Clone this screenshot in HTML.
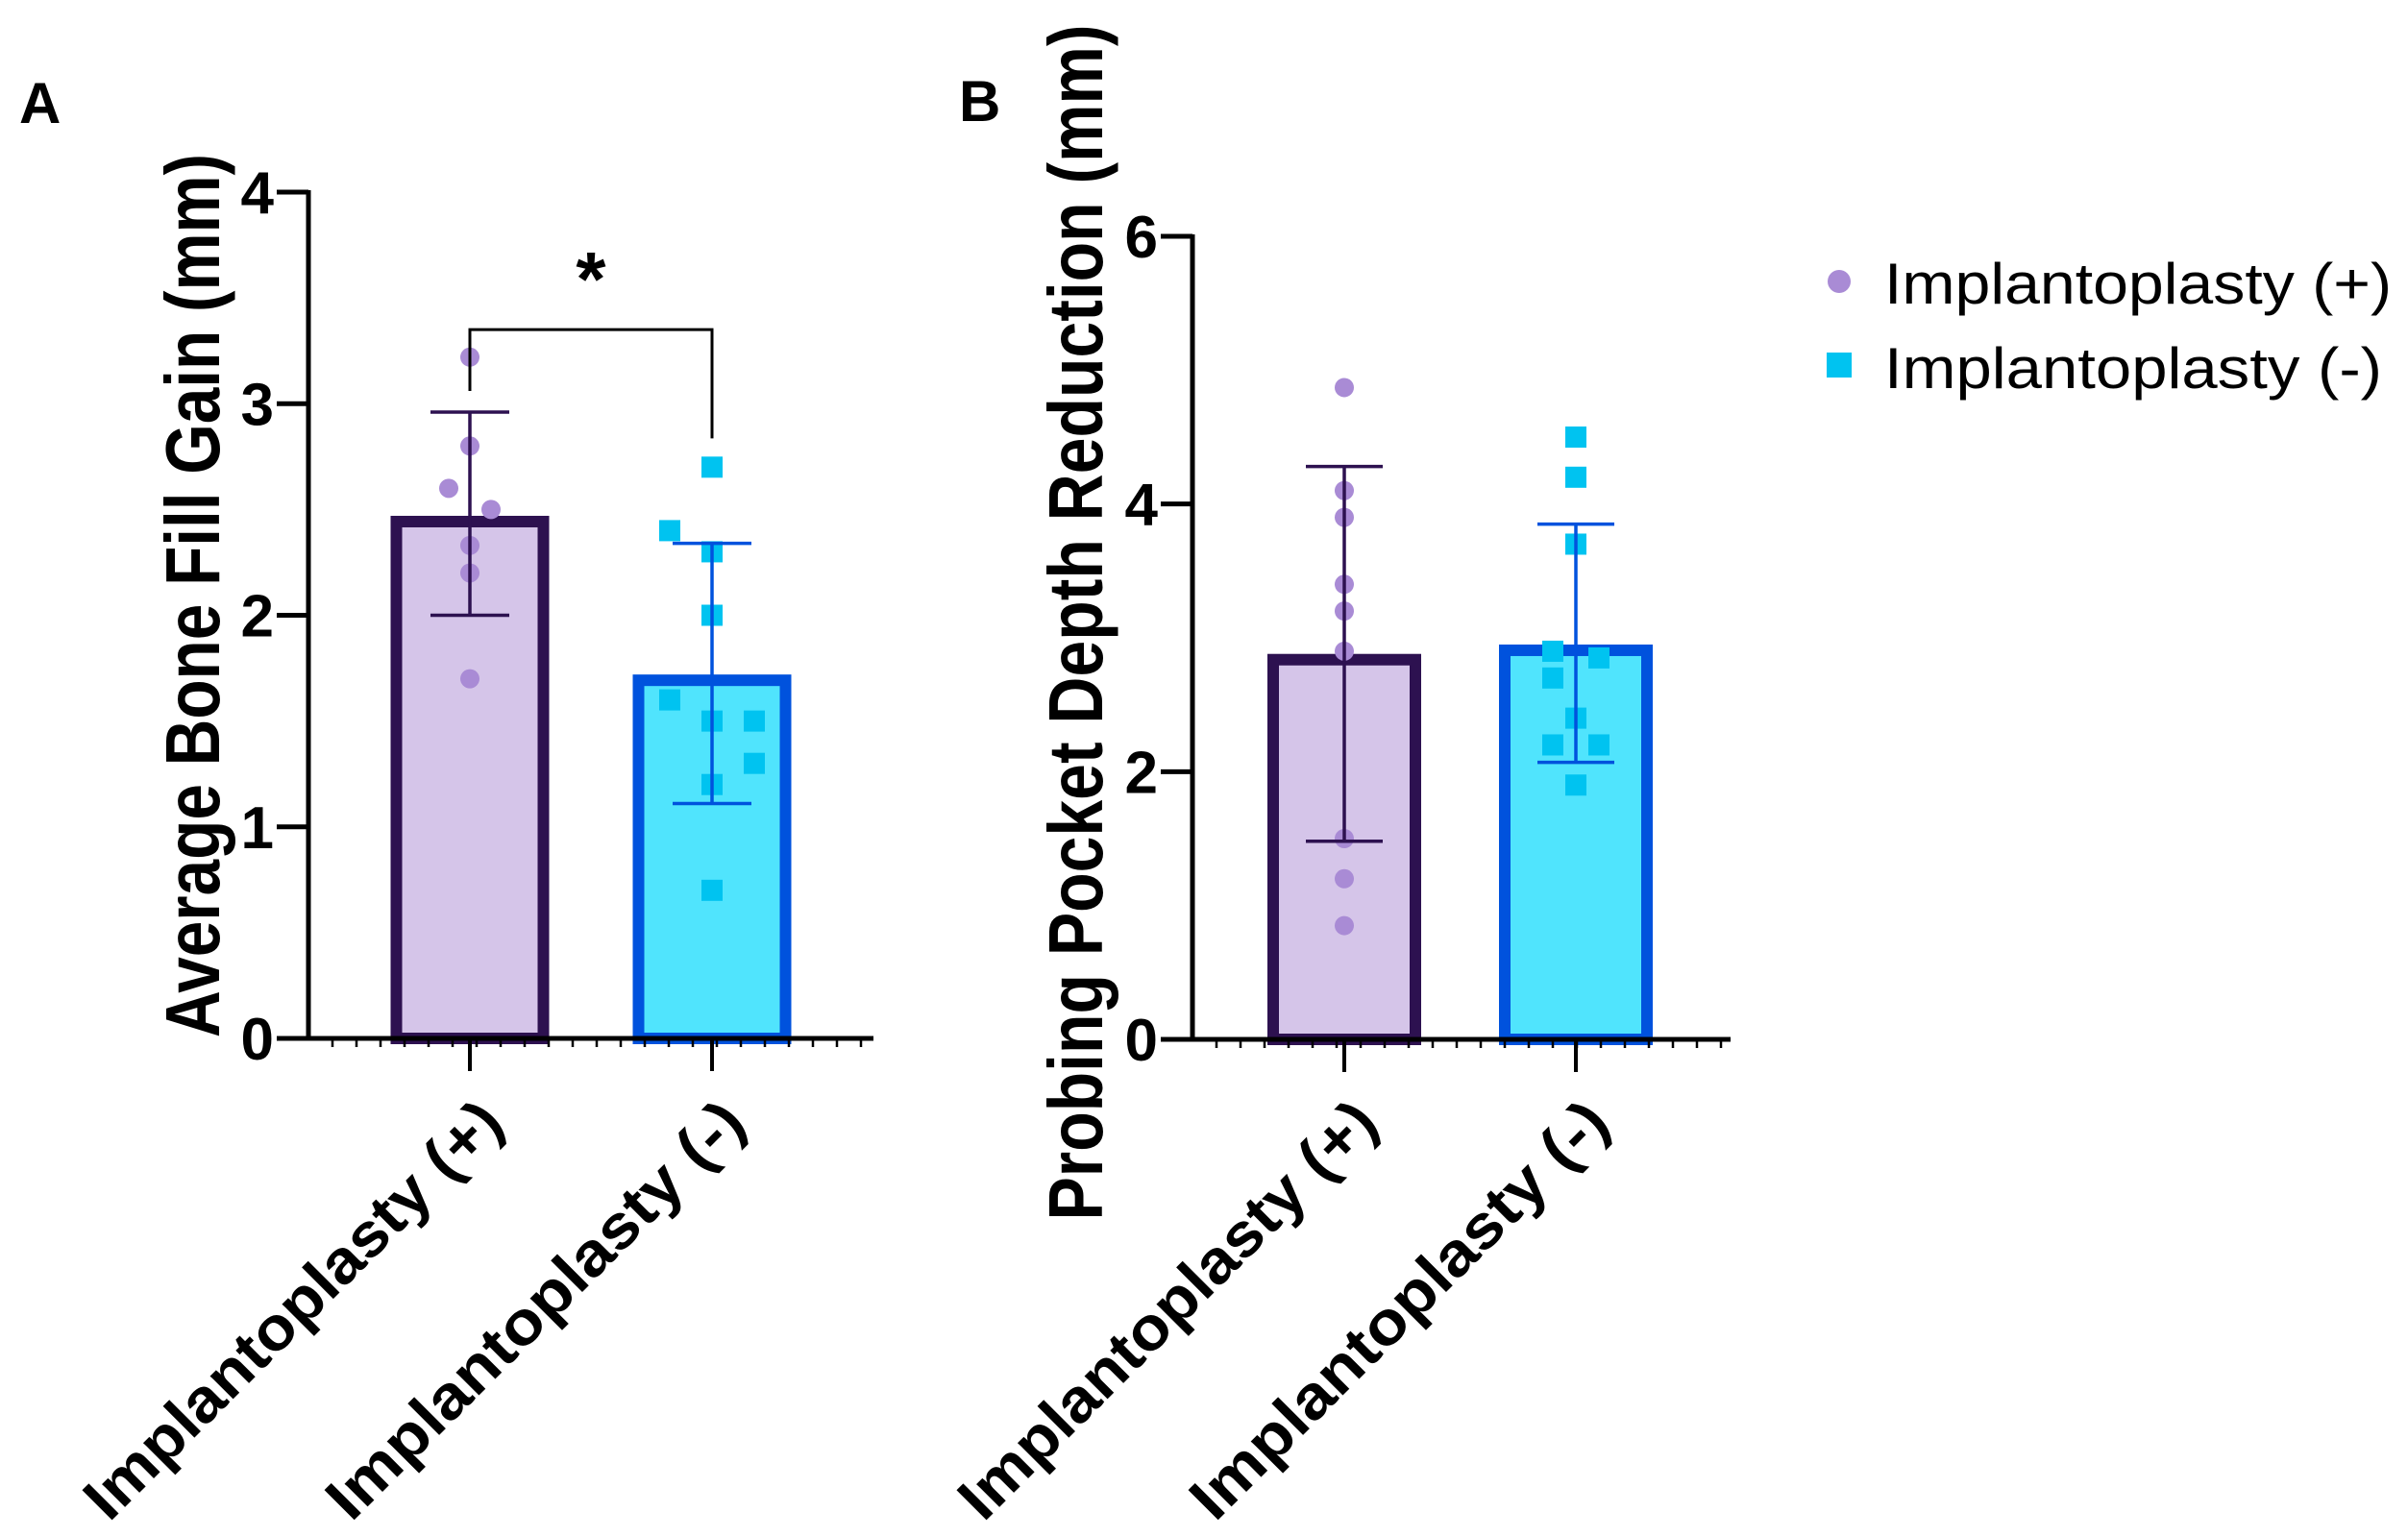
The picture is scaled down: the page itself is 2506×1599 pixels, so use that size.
<!DOCTYPE html>
<html><head><meta charset="utf-8"><style>
html,body{margin:0;padding:0;background:#fff;}
svg{display:block;font-family:"Liberation Sans",Arial,sans-serif;}
</style></head><body>
<svg id="chart" width="2506" height="1599" viewBox="0 0 2506 1599" xmlns="http://www.w3.org/2000/svg">
<rect width="2506" height="1599" fill="#fff"/>
<g id="layer"></g>
</svg>
<script>
const categories = ["Implantoplasty (+)", "Implantoplasty (-)"];
const meansA = [2.47, 1.72];
const sdUpperA = [2.96, 2.34];
const sdLowerA = [2.00, 1.11];
const pointsAplus = [3.22, 2.8, 2.6, 2.5, 2.33, 2.2, 1.7];
const offsetsAplus = [0, 0, -1, 1, 0, 0, 0];
const pointsAminus = [2.7, 2.4, 2.3, 2.0, 1.6, 1.5, 1.5, 1.3, 1.2, 0.7];
const offsetsAminus = [0, -2, 0, 0, -2, 0, 2, 2, 0, 0];
const meansB = [2.88, 2.95];
const sdUpperB = [4.28, 3.85];
const sdLowerB = [1.48, 2.07];
const pointsBplus = [4.87, 4.1, 3.9, 3.4, 3.2, 2.9, 1.5, 1.2, 0.85];
const offsetsBplus = [0, 0, 0, 0, 0, 0, 0, 0, 0];
const pointsBminus = [4.5, 4.2, 3.7, 2.9, 2.85, 2.7, 2.4, 2.2, 2.2, 1.9];
const offsetsBminus = [0, 0, 0, -1, 1, -1, 0, -1, 1, 0];
const ticksA = [0, 1, 2, 3, 4];
const ticksB = [0, 2, 4, 6];

const NS = "http://www.w3.org/2000/svg";
const layer = document.getElementById("layer");
function mk(tag, attrs, parent) {
  const e = document.createElementNS(NS, tag);
  for (const k in attrs) e.setAttribute(k, attrs[k]);
  (parent || layer).appendChild(e);
  return e;
}
const fills = ["#d5c5e9", "#50e4fd"];
const strokes = ["#2d1150", "#0052dd"];
const markerCol = ["#a98bd5", "#00c3f0"];

function panel(cfg) {
  const g = mk("g", {});
  
  
  const y = v => cfg.y0 - (v / cfg.max) * (cfg.y0 - cfg.yTop);
  cfg.means.forEach((m, i) => {
    const cx = cfg.cx[i];
    const b = mk("rect", {x: cx - cfg.bw/2 + 6, y: y(m) + 6, width: cfg.bw - 12, height: cfg.y0 - y(m) - 6, fill: fills[i], stroke: strokes[i], "stroke-width": 12}, g);
    
    
  });
  cfg.points.forEach((arr, i) => {
    arr.forEach((v, j) => {
      const cx = cfg.cx[i] + cfg.offsets[i][j] * cfg.dx;
      let p;
      if (i === 0) p = mk("circle", {cx: cx, cy: y(v), r: 10, fill: markerCol[0]}, g);
      else p = mk("rect", {x: cx - 11, y: y(v) - 11, width: 22, height: 22, fill: markerCol[1]}, g);
      
      
    });
  });
  cfg.means.forEach((m, i) => {
    const cx = cfg.cx[i];
    const eg = mk("g", {stroke: strokes[i], "stroke-width": 3.5}, g);
    
    
    mk("line", {x1: cx, x2: cx, y1: y(cfg.up[i]), y2: y(cfg.lo[i])}, eg);
    mk("line", {x1: cx - cfg.cap, x2: cx + cfg.cap, y1: y(cfg.up[i]), y2: y(cfg.up[i])}, eg);
    mk("line", {x1: cx - cfg.cap, x2: cx + cfg.cap, y1: y(cfg.lo[i]), y2: y(cfg.lo[i])}, eg);
  });
  const ax = mk("g", {stroke: "#000", "stroke-width": 5}, g);
  
  
  mk("line", {x1: cfg.ax, x2: cfg.ax, y1: y(cfg.max) - 2, y2: cfg.y0}, ax);
  cfg.ticks.forEach(t => {
    mk("line", {x1: cfg.ax - 33, x2: cfg.ax, y1: y(t), y2: y(t)}, ax);
    const tl = mk("text", {x: cfg.ax - 36, y: y(t) + 22, "text-anchor": "end", "font-size": 62, "font-weight": "bold", fill: "#000", stroke: "none"}, g);
    tl.textContent = t;
    
    
  });
  const xa = mk("g", {stroke: "#000"}, g);
  
  
  mk("line", {x1: cfg.ax - 33, x2: cfg.xEnd, y1: cfg.y0, y2: cfg.y0, "stroke-width": 5}, xa);
  for (let x = cfg.ax + 25; x < cfg.xEnd; x += 25) mk("line", {x1: x, x2: x, y1: cfg.y0, y2: cfg.y0 + 9, "stroke-width": 2.5}, xa);
  cfg.cx.forEach((cx, i) => {
    mk("line", {x1: cx, x2: cx, y1: cfg.y0, y2: cfg.y0 + 34, "stroke-width": 4}, xa);
    const bx = cx + 38, by = 1172;
    const t = mk("text", {x: bx, y: by, "text-anchor": "end", "font-size": 64, "font-weight": "bold", transform: "rotate(-45 " + bx + " " + by + ")", textLength: 585, lengthAdjust: "spacingAndGlyphs"}, g);
    t.textContent = categories[i];
    
    
  });
  const tx = cfg.titleX, ty = cfg.titleY;
  const yt = mk("text", {x: tx, y: ty, "text-anchor": "middle", "font-size": 80, "font-weight": "bold", transform: "rotate(-90 " + tx + " " + ty + ")", textLength: cfg.titleLen, lengthAdjust: "spacingAndGlyphs"}, g);
  yt.textContent = cfg.title;
  
  
  return y;
}

const yA = panel({name: "panel-a", y0: 1081, yTop: 200, max: 4, ax: 321, xEnd: 909, cx: [489, 741], bw: 165, dx: 22,
  means: meansA, up: sdUpperA, lo: sdLowerA, points: [pointsAplus, pointsAminus], offsets: [offsetsAplus, offsetsAminus],
  cap: 41, ticks: ticksA, title: "Average Bone Fill Gain  (mm)", titleX: 228, titleY: 620, titleLen: 920});
panel({name: "panel-b", y0: 1082, yTop: 246, max: 6, ax: 1241, xEnd: 1801, cx: [1399, 1640], bw: 160, dx: 24,
  means: meansB, up: sdUpperB, lo: sdLowerB, points: [pointsBplus, pointsBminus], offsets: [offsetsBplus, offsetsBminus],
  cap: 40, ticks: ticksB, title: "Probing  Pocket Depth  Reduction (mm)", titleX: 1147, titleY: 648, titleLen: 1245});

const br = mk("path", {d: "M489 " + (yA(2.96) - 22) + " V" + yA(3.35) + " H741 V" + (yA(2.7) - 30), fill: "none", stroke: "#000", "stroke-width": 3});


const st = mk("text", {x: 615, y: 318, "text-anchor": "middle", "font-size": 80, "font-weight": "bold"});
st.textContent = "*";



const la = mk("text", {x: 20, y: 128, "font-size": 60, "font-weight": "bold"});
la.textContent = "A";


const lb = mk("text", {x: 998, y: 126, "font-size": 60, "font-weight": "bold"});
lb.textContent = "B";



const lg = mk("g", {});


const e1 = mk("g", {}, lg);


mk("circle", {cx: 1914, cy: 293, r: 12, fill: markerCol[0]}, e1);
const t1 = mk("text", {x: 1961, y: 316, "font-size": 60, textLength: 528, lengthAdjust: "spacingAndGlyphs"}, e1);
t1.textContent = "Implantoplasty (+)";
const e2 = mk("g", {}, lg);


mk("rect", {x: 1901, y: 367, width: 26, height: 26, fill: markerCol[1]}, e2);
const t2 = mk("text", {x: 1961, y: 404, "font-size": 60, textLength: 518, lengthAdjust: "spacingAndGlyphs"}, e2);
t2.textContent = "Implantoplasty (-)";
</script>
</body></html>
